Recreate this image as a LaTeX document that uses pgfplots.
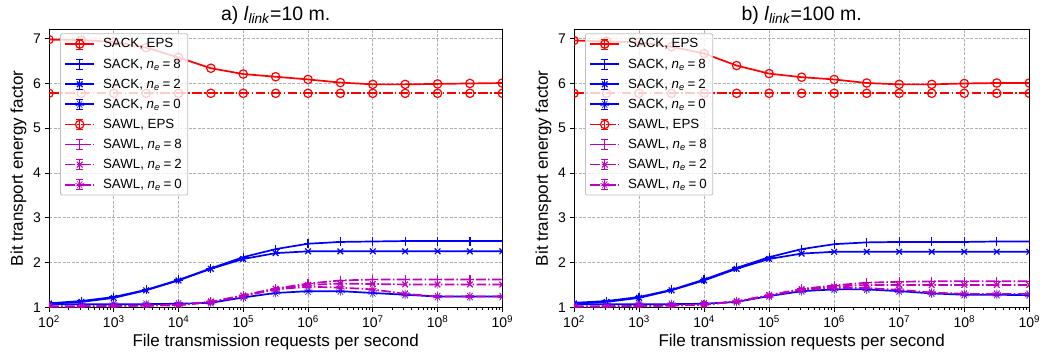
\documentclass[border=0pt]{standalone}
\usepackage{pgfplots}
\usepackage{pgfplotstable}
\pgfplotsset{compat=1.18}
\usepackage{fontspec}
\setmainfont{Liberation Sans}
\usetikzlibrary{plotmarks}
\definecolor{mplred}{rgb}{1,0,0}
\definecolor{mplblue}{rgb}{0,0,1}
\definecolor{mplmag}{rgb}{0.75,0,0.75}
\definecolor{gridgray}{rgb}{0.69,0.69,0.69}
\definecolor{legframe}{rgb}{0.75,0.75,0.75}

\pgfplotstableread{
x sackeps sack8 sack2 sack0 sawleps sawl8 sawl2 sawl0
100        6.98 1.09 1.08 1.07 5.78 1.02 1.02 1.02
316.23     6.97 1.14 1.12 1.07 5.78 1.02 1.02 1.02
1000       6.93 1.23 1.21 1.07 5.78 1.03 1.03 1.03
3162.3     6.80 1.39 1.38 1.07 5.78 1.04 1.04 1.04
10000      6.58 1.61 1.60 1.08 5.78 1.05 1.05 1.05
31623      6.34 1.87 1.86 1.10 5.78 1.12 1.12 1.12
100000     6.21 2.12 2.08 1.22 5.78 1.27 1.26 1.25
316228     6.15 2.30 2.21 1.32 5.78 1.42 1.41 1.40
1000000    6.09 2.42 2.25 1.36 5.78 1.53 1.50 1.46
3162278    6.02 2.46 2.25 1.36 5.78 1.60 1.53 1.44
10000000   5.98 2.47 2.25 1.32 5.78 1.62 1.52 1.40
31622777   5.98 2.48 2.25 1.28 5.78 1.62 1.51 1.30
100000000  5.99 2.48 2.25 1.24 5.78 1.62 1.51 1.24
316227766  6.00 2.48 2.25 1.24 5.78 1.62 1.51 1.24
1000000000 6.01 2.48 2.25 1.24 5.78 1.62 1.51 1.24
}\dataA

\pgfplotstableread{
x sackeps sack8 sack2 sack0 sawleps sawl8 sawl2 sawl0
100        6.96 1.10 1.08 1.07 5.78 1.02 1.02 1.02
316.23     6.94 1.14 1.12 1.07 5.78 1.02 1.02 1.02
1000       6.92 1.23 1.21 1.07 5.78 1.03 1.03 1.03
3162.3     6.82 1.39 1.38 1.07 5.78 1.04 1.04 1.04
10000      6.67 1.62 1.60 1.08 5.78 1.06 1.06 1.06
31623      6.40 1.88 1.86 1.12 5.78 1.13 1.13 1.13
100000     6.22 2.12 2.08 1.25 5.78 1.27 1.27 1.26
316228     6.14 2.30 2.20 1.36 5.78 1.41 1.40 1.39
1000000    6.09 2.41 2.24 1.40 5.78 1.49 1.46 1.43
3162278    6.01 2.45 2.24 1.40 5.78 1.55 1.50 1.43
10000000   5.98 2.46 2.24 1.36 5.78 1.57 1.50 1.39
31622777   5.98 2.46 2.24 1.31 5.78 1.58 1.50 1.33
100000000  6.00 2.46 2.24 1.28 5.78 1.58 1.50 1.30
316227766  6.01 2.47 2.24 1.28 5.78 1.58 1.50 1.30
1000000000 6.01 2.47 2.24 1.27 5.78 1.58 1.50 1.30
}\dataB

\tikzset{
  sackl/.style={solid},
  sawll/.style={dash pattern=on 9.6pt off 2.4pt on 1.5pt off 2.4pt},
  mko/.style={mark=o, mark size=4.2pt, mark options={solid, fill=none, line width=1.2pt}},
  mkp/.style={mark=+, mark size=4.5pt, mark options={solid, line width=1.2pt}},
  mkx/.style={mark=x, mark size=4pt, mark options={solid, line width=1.2pt}},
  mksb/.style={mark=10-pointed star, mark size=4.5pt, mark options={solid, fill=mplblue, line width=0.5pt}},
  mksm/.style={mark=10-pointed star, mark size=4.5pt, mark options={solid, fill=mplmag, line width=0.5pt}},
}

\newcommand{\eqs}{\kern0.22em=\kern0.22em}
\newcommand{\allplots}[1]{%
  \addplot[color=mplred, line width=1.7pt, sackl, mko] table[x=x, y=sackeps] {#1};
  \addlegendentry{SACK, EPS}
  \addplot[color=mplblue, line width=1.7pt, sackl, mkp] table[x=x, y=sack8] {#1};
  \addlegendentry{SACK, \textit{n}\textsubscript{\textit{e}}\eqs 8}
  \addplot[color=mplblue, line width=1.7pt, sackl, mkx] table[x=x, y=sack2] {#1};
  \addlegendentry{SACK, \textit{n}\textsubscript{\textit{e}}\eqs 2}
  \addplot[color=mplblue, line width=1.7pt, sackl, mksb] table[x=x, y=sack0] {#1};
  \addlegendentry{SACK, \textit{n}\textsubscript{\textit{e}}\eqs 0}
  \addplot[color=mplred, line width=1.7pt, sawll, mko] table[x=x, y=sawleps] {#1};
  \addlegendentry{SAWL, EPS}
  \addplot[color=mplmag, line width=1.7pt, sawll, mkp] table[x=x, y=sawl8] {#1};
  \addlegendentry{SAWL, \textit{n}\textsubscript{\textit{e}}\eqs 8}
  \addplot[color=mplmag, line width=1.7pt, sawll, mkx] table[x=x, y=sawl2] {#1};
  \addlegendentry{SAWL, \textit{n}\textsubscript{\textit{e}}\eqs 2}
  \addplot[color=mplmag, line width=1.7pt, sawll, mksm] table[x=x, y=sawl0] {#1};
  \addlegendentry{SAWL, \textit{n}\textsubscript{\textit{e}}\eqs 0}
}

\pgfplotsset{
  legend image code/.code={
    \draw[mark repeat=2,mark phase=2,#1] plot coordinates {(0pt,0pt) (14.5pt,0pt) (29pt,0pt)};
    \draw[#1,solid,line width=1pt] (14.5pt,-5pt) -- (14.5pt,5pt) (11pt,-5pt) -- (18pt,-5pt) (11pt,5pt) -- (18pt,5pt);
  },
}

\begin{document}
\begin{tikzpicture}
\path[use as bounding box] (0,0) rectangle (1049pt,358pt);
\begin{axis}[width=453.3pt, at={(49pt,50.7pt)}, anchor=south west,
  title={a) \textit{l}\textsubscript{\textit{link}}=10 m.},
    scale only axis, height=278pt,
    xmode=log, xmin=100, xmax=1e9, ymin=1, ymax=7.21,
    xtick={1e2,1e3,1e4,1e5,1e6,1e7,1e8,1e9},
    xticklabels={10\textsuperscript{2},10\textsuperscript{3},10\textsuperscript{4},10\textsuperscript{5},10\textsuperscript{6},10\textsuperscript{7},10\textsuperscript{8},10\textsuperscript{9}},
    xminorticks=true,
    minor xtick={200,300,400,500,600,700,800,900,2000,3000,4000,5000,6000,7000,8000,9000,2e4,3e4,4e4,5e4,6e4,7e4,8e4,9e4,2e5,3e5,4e5,5e5,6e5,7e5,8e5,9e5,2e6,3e6,4e6,5e6,6e6,7e6,8e6,9e6,2e7,3e7,4e7,5e7,6e7,7e7,8e7,9e7,2e8,3e8,4e8,5e8,6e8,7e8,8e8,9e8},
    ytick={1,2,3,4,5,6,7},
    yticklabel style={/pgf/number format/assume math mode=true},
    tick label style={font=\fontsize{14}{16}\selectfont},
    label style={font=\fontsize{17}{19}\selectfont},
    title style={font=\fontsize{19.5}{22}\selectfont, yshift=-4.5pt},
    xlabel={File transmission requests per second},
    ylabel={Bit transport energy factor},
    grid=major,
    major grid style={gridgray, dash pattern=on 3pt off 1.5pt, line width=0.8pt},
    tick align=outside, tick pos=left,
    major tick length=4.5pt, minor tick length=2.5pt,
    major tick style={black, line width=0.9pt},
    minor tick style={black, line width=0.7pt},
    axis line style={line width=0.9pt},
    clip marker paths=true,
    legend cell align=left,
    legend style={at={(0,1)}, anchor=north west, xshift=11pt, yshift=-4pt,
      font=\fontsize{13.3}{15}\selectfont, fill=white, fill opacity=0.8,
      draw opacity=1, text opacity=1, draw=legframe, line width=0.8pt, rounded corners=2pt,
      row sep=5.3pt, column sep=6pt, inner xsep=4pt, inner ysep=3pt}]
\allplots{\dataA}
\end{axis}
\begin{axis}[width=455.3pt, at={(574pt,50.7pt)}, anchor=south west,
  title={b) \textit{l}\textsubscript{\textit{link}}=100 m.},
    scale only axis, height=278pt,
    xmode=log, xmin=100, xmax=1e9, ymin=1, ymax=7.21,
    xtick={1e2,1e3,1e4,1e5,1e6,1e7,1e8,1e9},
    xticklabels={10\textsuperscript{2},10\textsuperscript{3},10\textsuperscript{4},10\textsuperscript{5},10\textsuperscript{6},10\textsuperscript{7},10\textsuperscript{8},10\textsuperscript{9}},
    xminorticks=true,
    minor xtick={200,300,400,500,600,700,800,900,2000,3000,4000,5000,6000,7000,8000,9000,2e4,3e4,4e4,5e4,6e4,7e4,8e4,9e4,2e5,3e5,4e5,5e5,6e5,7e5,8e5,9e5,2e6,3e6,4e6,5e6,6e6,7e6,8e6,9e6,2e7,3e7,4e7,5e7,6e7,7e7,8e7,9e7,2e8,3e8,4e8,5e8,6e8,7e8,8e8,9e8},
    ytick={1,2,3,4,5,6,7},
    yticklabel style={/pgf/number format/assume math mode=true},
    tick label style={font=\fontsize{14}{16}\selectfont},
    label style={font=\fontsize{17}{19}\selectfont},
    title style={font=\fontsize{19.5}{22}\selectfont, yshift=-4.5pt},
    xlabel={File transmission requests per second},
    ylabel={Bit transport energy factor},
    grid=major,
    major grid style={gridgray, dash pattern=on 3pt off 1.5pt, line width=0.8pt},
    tick align=outside, tick pos=left,
    major tick length=4.5pt, minor tick length=2.5pt,
    major tick style={black, line width=0.9pt},
    minor tick style={black, line width=0.7pt},
    axis line style={line width=0.9pt},
    clip marker paths=true,
    legend cell align=left,
    legend style={at={(0,1)}, anchor=north west, xshift=11pt, yshift=-4pt,
      font=\fontsize{13.3}{15}\selectfont, fill=white, fill opacity=0.8,
      draw opacity=1, text opacity=1, draw=legframe, line width=0.8pt, rounded corners=2pt,
      row sep=5.3pt, column sep=6pt, inner xsep=4pt, inner ysep=3pt}]
\allplots{\dataB}
\end{axis}
\end{tikzpicture}
\end{document}
